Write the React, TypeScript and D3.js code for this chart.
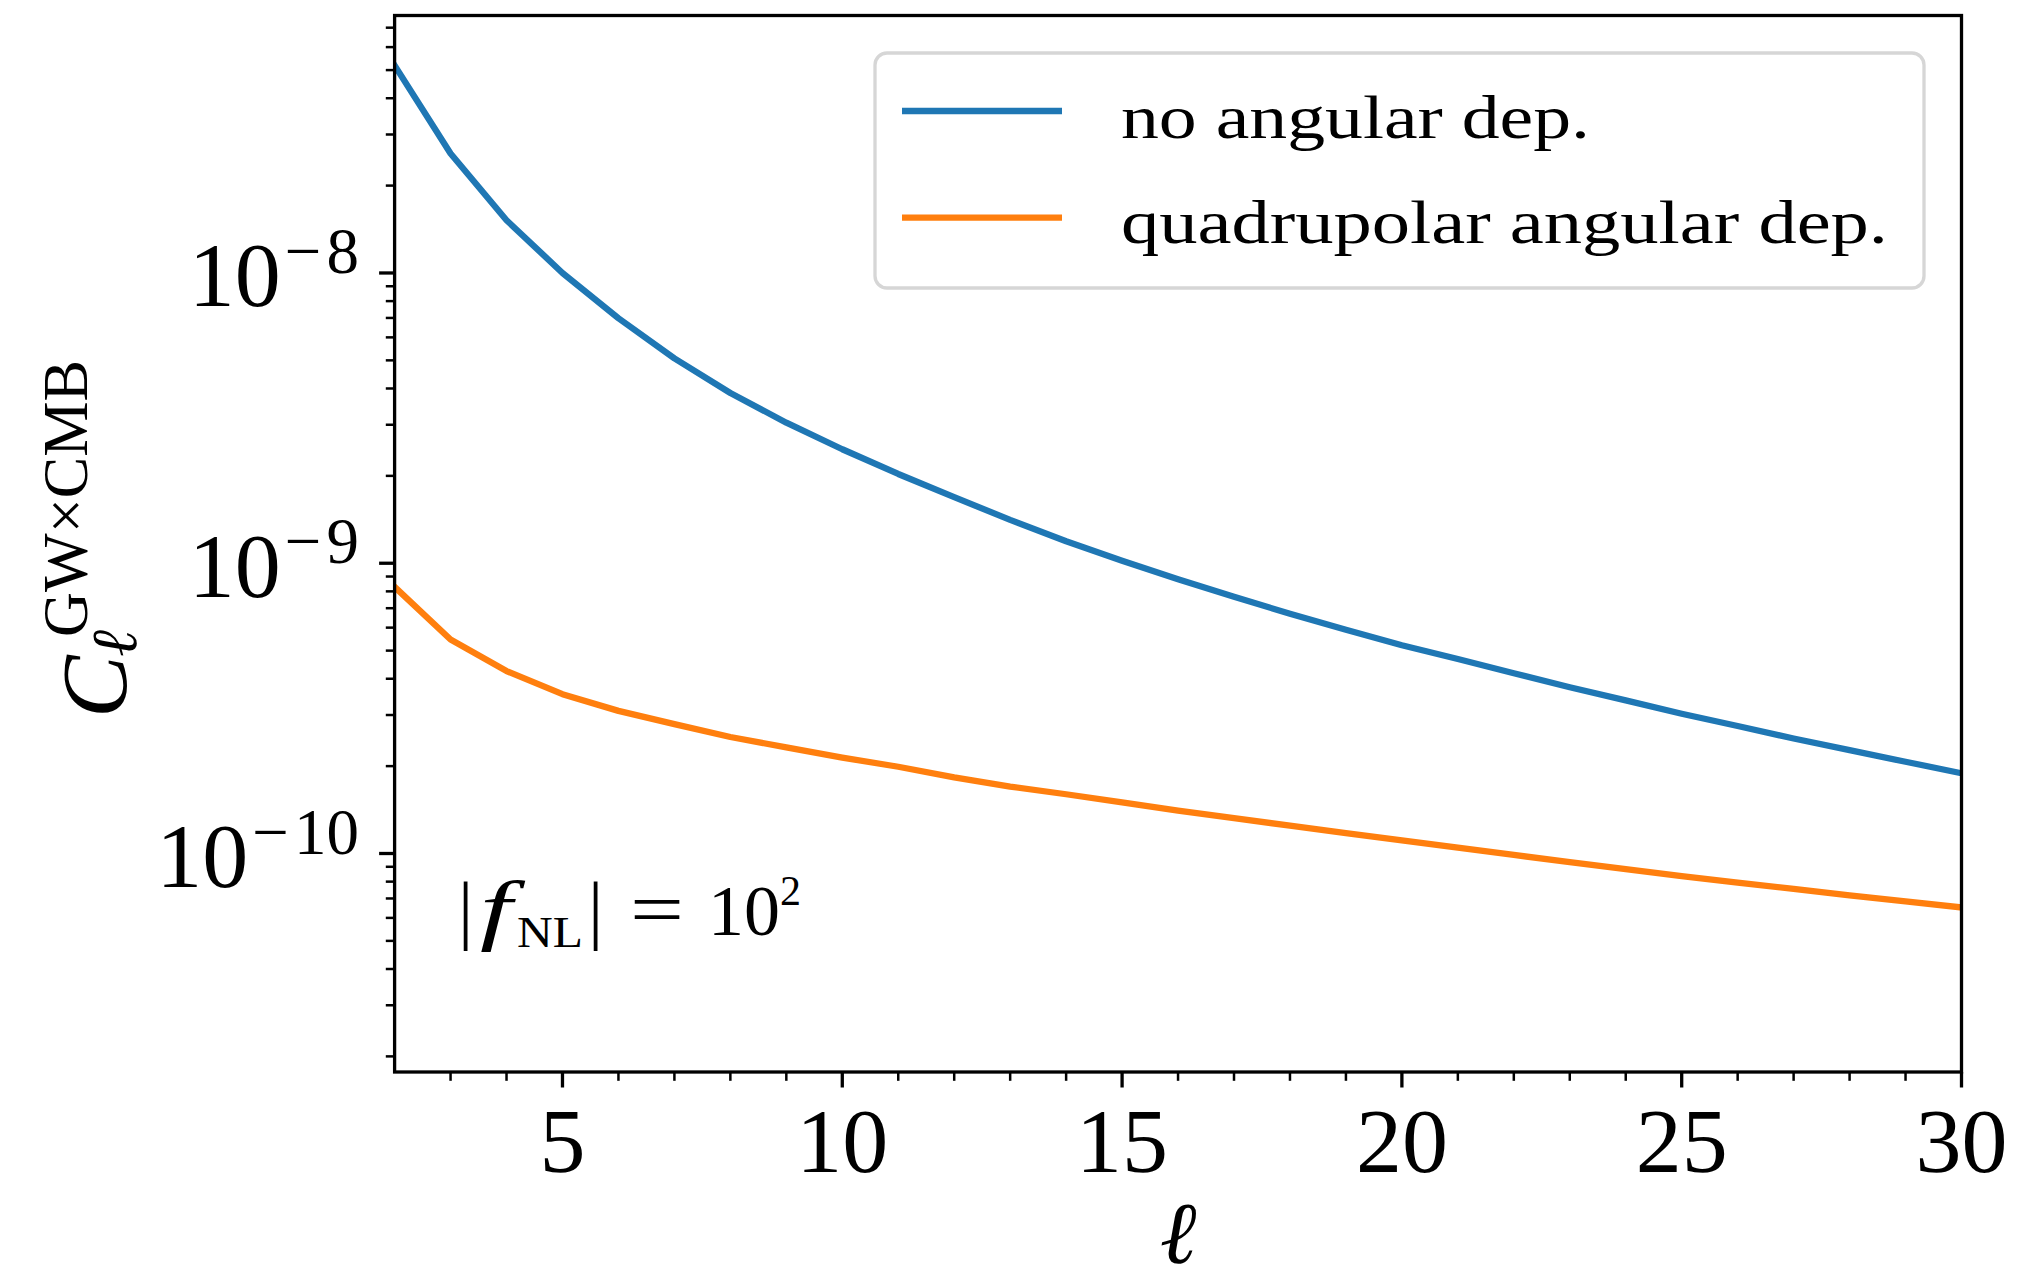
import React from 'react';
import * as d3 from 'd3';

// Multipole moments
const ELL = [2, 3, 4, 5, 6, 7, 8, 9, 10, 11, 12, 13, 14, 15, 16, 17, 18, 19, 20, 21, 22, 23, 24, 25, 26, 27, 28, 29, 30];

// C_ell^{GW x CMB}, no angular dependence
const NO_ANGULAR = [
  5.19e-8, 2.58e-8, 1.52e-8, 1.0e-8, 6.98e-9, 5.08e-9, 3.86e-9, 3.05e-9, 2.47e-9, 2.03e-9,
  1.69e-9, 1.41e-9, 1.19e-9, 1.02e-9, 8.81e-10, 7.66e-10, 6.7e-10, 5.9e-10, 5.22e-10, 4.68e-10,
  4.18e-10, 3.74e-10, 3.37e-10, 3.03e-10, 2.75e-10, 2.49e-10, 2.27e-10, 2.07e-10, 1.89e-10,
];

// C_ell^{GW x CMB}, quadrupolar angular dependence
const QUADRUPOLAR = [
  8.29e-10, 5.46e-10, 4.25e-10, 3.54e-10, 3.1e-10, 2.79e-10, 2.52e-10, 2.32e-10, 2.14e-10, 1.99e-10,
  1.83e-10, 1.7e-10, 1.6e-10, 1.5e-10, 1.406e-10, 1.324e-10, 1.247e-10, 1.175e-10, 1.109e-10, 1.047e-10,
  9.89e-11, 9.33e-11, 8.83e-11, 8.36e-11, 7.94e-11, 7.55e-11, 7.18e-11, 6.84e-11, 6.52e-11,
];

const SERIES_LABELS = ['no angular dep.', 'quadrupolar angular dep.'];
const SERIES_COLORS = ['#1f77b4', '#ff7f0e'];

const X_DOMAIN = [2, 30];
const Y_DOMAIN = [1.767e-11, 7.71e-8];
const X_MAJOR = [5, 10, 15, 20, 25, 30];
const X_MINOR = [3, 4, 6, 7, 8, 9, 11, 12, 13, 14, 16, 17, 18, 19, 21, 22, 23, 24, 26, 27, 28, 29];

const SERIF = '"Liberation Serif", "Times New Roman", "DejaVu Serif", serif';

export default function App() {
  const W = 2039;
  const H = 1274;
  const L = 394.6;
  const R = 1961.5;
  const T = 15.5;
  const B = 1072;

  const x = d3.scaleLinear().domain(X_DOMAIN).range([L, R]);
  const y = d3.scaleLog().domain(Y_DOMAIN).range([B, T]);

  const line = d3
    .line<[number, number]>()
    .x((d) => x(d[0]))
    .y((d) => y(d[1]));

  const series = [NO_ANGULAR, QUADRUPOLAR].map((vals) => ELL.map((l, i) => [l, vals[i]] as [number, number]));

  const yTicks = y.ticks();
  const isMajor = (v: number) => {
    const m = v / Math.pow(10, Math.floor(Math.log10(v) + 1e-9));
    return Math.abs(m - 1) < 1e-6;
  };
  const yMajor = yTicks.filter(isMajor);
  const yMinor = yTicks.filter((v) => !isMajor(v));

  const majorLen = 15.5;
  const minorLen = 8.8;
  const spineW = 3.3;

  return (
    <svg
      width={W}
      height={H}
      viewBox={`0 0 ${W} ${H}`}
      style={{ position: 'absolute', left: 0, top: 0, display: 'block', background: '#fff' }}
    >
      <defs>
        <clipPath id="plot-area">
          <rect x={L} y={T} width={R - L} height={B - T} />
        </clipPath>
      </defs>
      <rect x={0} y={0} width={W} height={H} fill="#fff" />

      {/* curves */}
      <g clipPath="url(#plot-area)">
        {series.map((s, i) => (
          <path
            key={i}
            d={line(s) || ''}
            fill="none"
            stroke={SERIES_COLORS[i]}
            strokeWidth={6.3}
            strokeLinejoin="round"
            strokeLinecap="square"
          />
        ))}
      </g>

      {/* ticks */}
      <g stroke="#000">
        {X_MAJOR.map((v) => (
          <line key={'xM' + v} x1={x(v)} x2={x(v)} y1={B} y2={B + majorLen} strokeWidth={3.3} />
        ))}
        {X_MINOR.map((v) => (
          <line key={'xm' + v} x1={x(v)} x2={x(v)} y1={B} y2={B + minorLen} strokeWidth={2.5} />
        ))}
        {yMajor.map((v) => (
          <line key={'yM' + v} x1={L} x2={L - majorLen} y1={y(v)} y2={y(v)} strokeWidth={3.3} />
        ))}
        {yMinor.map((v) => (
          <line key={'ym' + v} x1={L} x2={L - minorLen} y1={y(v)} y2={y(v)} strokeWidth={2.5} />
        ))}
      </g>

      {/* spines */}
      <rect x={L} y={T} width={R - L} height={B - T} fill="none" stroke="#000" strokeWidth={spineW} />

      {/* x tick labels */}
      <g fontFamily={SERIF} fontSize={92} fill="#000" textAnchor="middle">
        {X_MAJOR.map((v) => (
          <text key={'xl' + v} x={x(v)} y={1172}>
            {v}
          </text>
        ))}
      </g>

      {/* y tick labels */}
      <g fontFamily={SERIF} fill="#000" textAnchor="end">
        {yMajor.map((v) => {
          const e = Math.round(Math.log10(v));
          return (
            <text key={'yl' + v} x={359} y={y(v) + 33.5} fontSize={92}>
              <tspan>10</tspan>
              <tspan fontSize={65} dy={-33.5} dx={4}>
                {'\u2212'}
              </tspan>
              <tspan fontSize={65} dx={5}>
                {String(-e)}
              </tspan>
            </text>
          );
        })}
      </g>

      {/* x axis label */}
      <text x={(L + R) / 2} y={1263} fontFamily={SERIF} fontSize={88} fontStyle="italic" textAnchor="middle">
        {'\u2113'}
      </text>

      {/* y axis label */}
      <g transform="translate(126,718) rotate(-90)" fontFamily={SERIF} fill="#000">
        <text x={0} y={0} fontSize={94} fontStyle="italic">
          C
        </text>
        <text x={61} y={10} fontSize={64} fontStyle="italic">
          {'\u2113'}
        </text>
        <text x={81} y={-39} fontSize={64} textLength={277} lengthAdjust="spacingAndGlyphs">
          GW{'\u00d7'}CMB
        </text>
      </g>

      {/* f_NL annotation */}
      <g fontFamily={SERIF} fill="#000">
        <text x={458} y={935} fontSize={76}>
          |
        </text>
        <text x={480} y={935} fontSize={78} fontStyle="italic" textLength={32} lengthAdjust="spacingAndGlyphs">
          f
        </text>
        <text x={517} y={947} fontSize={44} textLength={66} lengthAdjust="spacingAndGlyphs">
          NL
        </text>
        <text x={588} y={935} fontSize={76}>
          |
        </text>
        <text x={630} y={935} fontSize={76} textLength={54} lengthAdjust="spacingAndGlyphs">
          =
        </text>
        <text x={708} y={935} fontSize={72}>
          <tspan>10</tspan>
          <tspan fontSize={42} dy={-30}>
            2
          </tspan>
        </text>
      </g>

      {/* legend */}
      <g>
        <rect
          x={875}
          y={53}
          width={1049}
          height={235}
          rx={12}
          ry={12}
          fill="#fff"
          fillOpacity={0.8}
          stroke="#d6d6d6"
          strokeWidth={3.3}
        />
        {SERIES_LABELS.map((label, i) => {
          const rowY = [111, 217.7][i];
          const baseY = [137.7, 243.3][i];
          const len = [469, 767][i];
          return (
            <g key={label}>
              <line x1={902} x2={1062} y1={rowY} y2={rowY} stroke={SERIES_COLORS[i]} strokeWidth={6.3} />
              <text
                x={1121}
                y={baseY}
                fontFamily={SERIF}
                fontSize={62}
                fill="#000"
                textLength={len}
                lengthAdjust="spacingAndGlyphs"
              >
                {label}
              </text>
            </g>
          );
        })}
      </g>
    </svg>
  );
}
